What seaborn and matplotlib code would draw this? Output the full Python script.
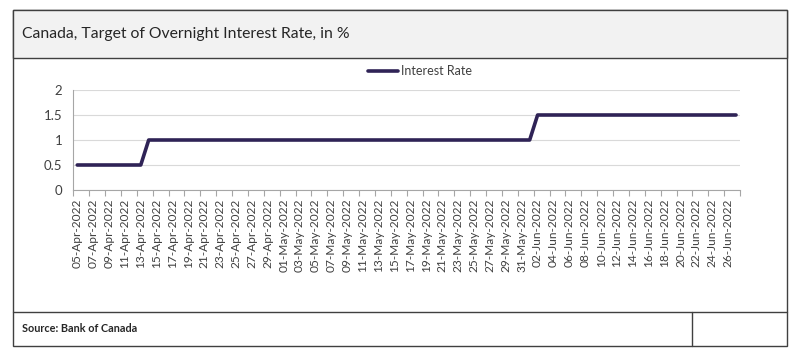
import pandas as pd
import matplotlib.pyplot as plt
import seaborn as sns
from matplotlib.patches import Rectangle
from matplotlib.lines import Line2D

# daily dates shown on the category axis
dates = list(pd.date_range('2022-04-05', '2022-06-27').strftime('%d-%b-%Y'))
# target overnight rate, in %
rates = [0.5, 0.5, 0.5, 0.5, 0.5, 0.5, 0.5, 0.5, 0.5,
         1.0, 1.0, 1.0, 1.0, 1.0, 1.0, 1.0, 1.0, 1.0, 1.0,
         1.0, 1.0, 1.0, 1.0, 1.0, 1.0, 1.0, 1.0, 1.0, 1.0,
         1.0, 1.0, 1.0, 1.0, 1.0, 1.0, 1.0, 1.0, 1.0, 1.0,
         1.0, 1.0, 1.0, 1.0, 1.0, 1.0, 1.0, 1.0, 1.0, 1.0,
         1.0, 1.0, 1.0, 1.0, 1.0, 1.0, 1.0, 1.0, 1.0,
         1.5, 1.5, 1.5, 1.5, 1.5, 1.5, 1.5, 1.5, 1.5, 1.5,
         1.5, 1.5, 1.5, 1.5, 1.5, 1.5, 1.5, 1.5, 1.5, 1.5,
         1.5, 1.5, 1.5, 1.5, 1.5, 1.5]
y_ticks = [0, 0.5, 1, 1.5, 2]
y_labels = ['0', '0.5', '1', '1.5', '2']

df = pd.DataFrame({'date': dates, 'rate': rates})

sns.set_theme(style='white')
plt.rcParams['font.family'] = ['Lato', 'DejaVu Sans']

W, H = 800, 358
fig = plt.figure(figsize=(W / 100, H / 100), dpi=100)


def fx(x):
    return x / W


def fy(y):
    return 1 - y / H


frame = '#404040'
# outer box, title band and source box
fig.add_artist(Rectangle((fx(13), fy(346)), (787 - 13) / W, (346 - 10) / H,
                         transform=fig.transFigure, facecolor='white',
                         edgecolor=frame, lw=1, zorder=0))
fig.add_artist(Rectangle((fx(13), fy(58)), (787 - 13) / W, 48 / H,
                         transform=fig.transFigure, facecolor='#f2f2f2',
                         edgecolor=frame, lw=1, zorder=1))
fig.add_artist(Line2D([fx(13), fx(787)], [fy(312), fy(312)],
                      transform=fig.transFigure, color=frame, lw=1))
fig.add_artist(Line2D([fx(692), fx(692)], [fy(312), fy(346)],
                      transform=fig.transFigure, color=frame, lw=1))

fig.text(fx(22), fy(34), 'Canada, Target of Overnight Interest Rate, in %',
         fontsize=11.3, color='#262626', va='center', ha='left')
fig.text(fx(22), fy(329), 'Source: Bank of Canada', fontsize=7.8,
         fontweight='bold', color='#262626', va='center', ha='left')

ax = fig.add_axes([fx(73.3), fy(190), 666.7 / W, 100 / H])
sns.lineplot(data=df, x='date', y='rate', ax=ax, color='#2f2356',
             lw=2.6, label='Interest Rate', sort=False)

ax.set_xlim(-0.5, len(dates) - 0.5)
ax.set_ylim(0, 2)
ax.set_yticks(y_ticks)
ax.set_yticklabels(y_labels, fontsize=9.5, color='#404040')
ax.set_xticks(range(0, len(dates), 2))
ax.set_xticklabels(dates[::2], rotation=90, fontsize=8.6, color='#404040')
ax.set_xticks([i - 0.5 for i in range(0, len(dates), 2)] + [len(dates) - 0.5],
              minor=True)
ax.tick_params(axis='x', which='major', length=0, pad=6)
ax.tick_params(axis='x', which='minor', length=4, color='#a6a6a6', width=0.8,
               direction='out', bottom=True)
ax.tick_params(axis='y', length=0, pad=8)
ax.yaxis.grid(True, color='#d9d9d9', lw=0.8)
ax.xaxis.grid(False)
ax.set_axisbelow(True)
for s in ['top', 'right']:
    ax.spines[s].set_visible(False)
for s in ['left', 'bottom']:
    ax.spines[s].set_color('#a6a6a6')
    ax.spines[s].set_linewidth(0.8)
ax.set_xlabel('')
ax.set_ylabel('')

ax.legend(loc='center', bbox_to_anchor=(fx(420), fy(71)),
          bbox_transform=fig.transFigure, frameon=False, fontsize=9,
          handlelength=2.4, handletextpad=0.2, labelcolor='#404040')

fig.savefig('out.png', dpi=100)
